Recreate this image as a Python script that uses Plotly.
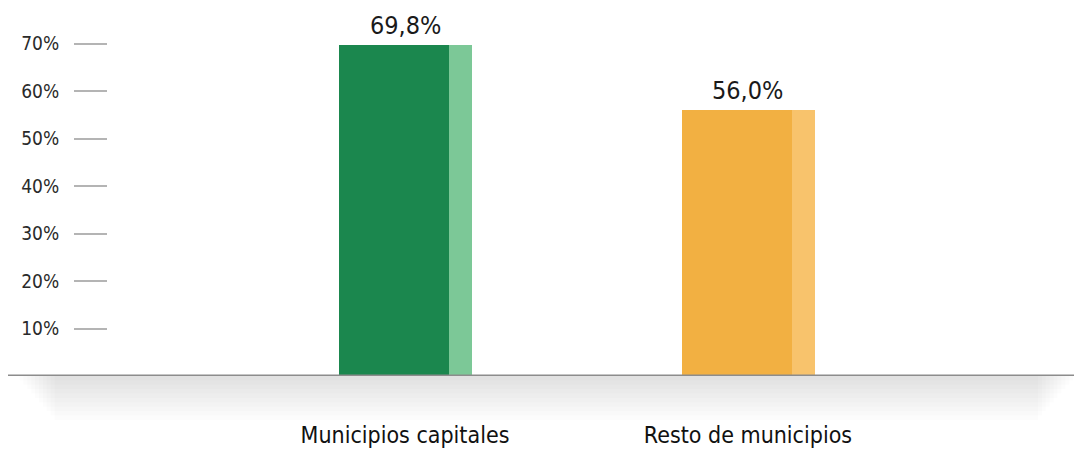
import plotly.graph_objects as go

categories = ["Municipios capitales", "Resto de municipios"]
values = [69.8, 56.0]
value_labels = ["69,8%", "56,0%"]
dark_colors = ["#1b874e", "#f2b042"]
light_colors = ["#7cc897", "#f8c36c"]
tick_vals = [10, 20, 30, 40, 50, 60, 70]
tick_text = ["10%", "20%", "30%", "40%", "50%", "60%", "70%"]

FONT = "Liberation Sans Narrow, DejaVu Sans Condensed, sans-serif"

fig = go.Figure()

# main (dark) bar and the thin light strip on its right
fig.add_trace(
    go.Bar(
        x=categories,
        y=values,
        width=0.3207,
        offset=-0.1924,
        marker=dict(color=dark_colors, line=dict(width=0)),
        hoverinfo="skip",
    )
)
fig.add_trace(
    go.Bar(
        x=categories,
        y=values,
        width=0.0671,
        offset=0.1283,
        marker=dict(color=light_colors, line=dict(width=0)),
        hoverinfo="skip",
    )
)

for cat, val, lab in zip(categories, values, value_labels):
    fig.add_annotation(
        x=cat,
        y=val,
        text=lab,
        showarrow=False,
        yanchor="bottom",
        yshift=3,
        font=dict(family=FONT, size=25, color="#1a1a1a"),
    )

# soft shadow under the baseline
n_layers = 10
for i in range(1, n_layers + 1):
    depth = i * 4.4 / 356
    inset = 0.004 * i
    fig.add_shape(
        type="rect",
        xref="paper",
        yref="paper",
        x0=-0.095 + inset,
        x1=0.995 - inset,
        y0=-depth,
        y1=0,
        fillcolor="black",
        opacity=0.013,
        line=dict(width=0),
        layer="below",
    )

# baseline
fig.add_shape(
    type="line",
    xref="paper",
    yref="y",
    x0=-0.1027,
    x1=1,
    y0=0,
    y1=0,
    line=dict(color="#8c8c8c", width=3),
)

# page body has an 8px margin, so the figure is drawn 8px smaller
fig.update_layout(
    width=1074,
    height=441,
    margin=dict(l=100, r=0, t=12, b=73),
    paper_bgcolor="white",
    plot_bgcolor="white",
    barmode="overlay",
    showlegend=False,
    bargap=0,
)
fig.update_xaxes(
    range=[-0.866, 1.974],
    automargin=False,
    showgrid=False,
    zeroline=False,
    showline=False,
    ticks="",
    ticklabelstandoff=43,
    tickfont=dict(family=FONT, size=23, color="#111111"),
)
fig.update_yaxes(
    range=[0, 75],
    automargin=False,
    tickvals=tick_vals,
    ticktext=tick_text,
    showgrid=False,
    zeroline=False,
    showline=False,
    ticks="outside",
    ticklen=33,
    tickwidth=1.5,
    tickcolor="#b4b4b4",
    ticklabelstandoff=11,
    tickfont=dict(family=FONT, size=19, color="#2a2a2a"),
)

fig.write_html("out.html")
